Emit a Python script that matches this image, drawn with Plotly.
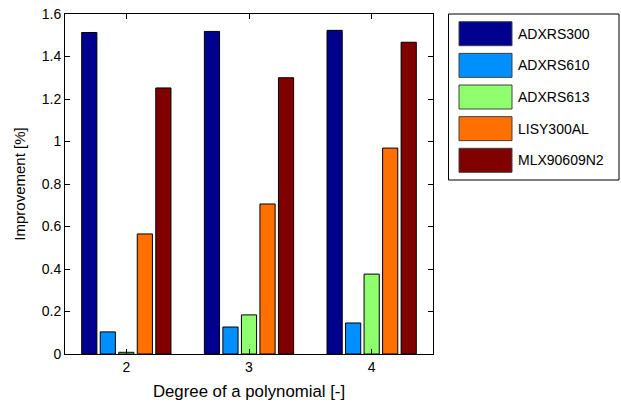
import plotly.graph_objects as go

degrees = [2, 3, 4]
series_names = ["ADXRS300", "ADXRS610", "ADXRS613", "LISY300AL", "MLX90609N2"]
adxrs300 = [1.513, 1.518, 1.523]
adxrs610 = [0.104, 0.127, 0.146]
adxrs613 = [0.008, 0.184, 0.376]
lisy300al = [0.565, 0.706, 0.969]
mlx90609n2 = [1.252, 1.300, 1.467]
series_values = [adxrs300, adxrs610, adxrs613, lisy300al, mlx90609n2]
colors = ["#00008F", "#008FFF", "#8FFF70", "#FF7000", "#800000"]
y_ticks = [0, 0.2, 0.4, 0.6, 0.8, 1, 1.2, 1.4, 1.6]
y_tick_labels = ["0", "0.2", "0.4", "0.6", "0.8", "1", "1.2", "1.4", "1.6"]

FONT = "Liberation Sans, Arial, sans-serif"
FS = 14

fig = go.Figure()
for name, vals, col in zip(series_names, series_values, colors):
    fig.add_trace(go.Bar(
        x=degrees, y=vals, name=name,
        marker=dict(color=col, line=dict(color="#000000", width=1)),
        showlegend=False,
    ))

W, H = 621, 405
ml, mr, mt, mb = 65, 188, 14, 51

# custom legend (paper coordinates converted from pixels)
def px_x(p):
    return (p - ml) / (W - ml - mr)

def px_y(p):
    return 1 - (p - mt) / (H - mt - mb)

shapes = [dict(type="rect", xref="paper", yref="paper",
               x0=px_x(448.5), x1=px_x(619), y0=px_y(180), y1=px_y(14),
               line=dict(color="#000000", width=1), fillcolor="white")]
annotations = []
for i, (name, col) in enumerate(zip(series_names, colors)):
    cy = 33.7 + i * 31.65
    shapes.append(dict(type="rect", xref="paper", yref="paper",
                       x0=px_x(459), x1=px_x(512), y0=px_y(cy + 12), y1=px_y(cy - 12),
                       line=dict(color="#404040", width=1), fillcolor=col))
    annotations.append(dict(xref="paper", yref="paper", x=px_x(516), y=px_y(cy),
                            text=name, showarrow=False, xanchor="left", yanchor="middle",
                            font=dict(family=FONT, size=FS, color="#000000")))

fig.update_layout(
    width=W, height=H,
    margin=dict(l=ml, r=mr, t=mt, b=mb, autoexpand=False),
    paper_bgcolor="white", plot_bgcolor="white",
    barmode="group", bargap=0.245, bargroupgap=0.18,
    font=dict(family=FONT, size=FS, color="#000000"),
    shapes=shapes, annotations=annotations,
    xaxis=dict(
        range=[1.5, 4.5], tickvals=degrees, ticktext=[str(d) for d in degrees],
        showline=True, linecolor="#000000", linewidth=1, mirror="ticks",
        ticks="inside", ticklen=5, tickcolor="#000000", showgrid=False, zeroline=False,
        automargin=False,
        title=dict(text="Degree of a polynomial [-]", standoff=11, font=dict(size=16.8)),
        tickfont=dict(size=FS),
    ),
    yaxis=dict(
        range=[0, 1.6], tickvals=y_ticks, ticktext=y_tick_labels,
        showline=True, linecolor="#000000", linewidth=1, mirror="ticks",
        ticks="inside", ticklen=5, tickcolor="#000000", showgrid=False, zeroline=False,
        automargin=False,
        title=dict(text="Improvement [%]", standoff=12, font=dict(size=15)),
        tickfont=dict(size=FS),
    ),
)

fig.write_html("out.html")
